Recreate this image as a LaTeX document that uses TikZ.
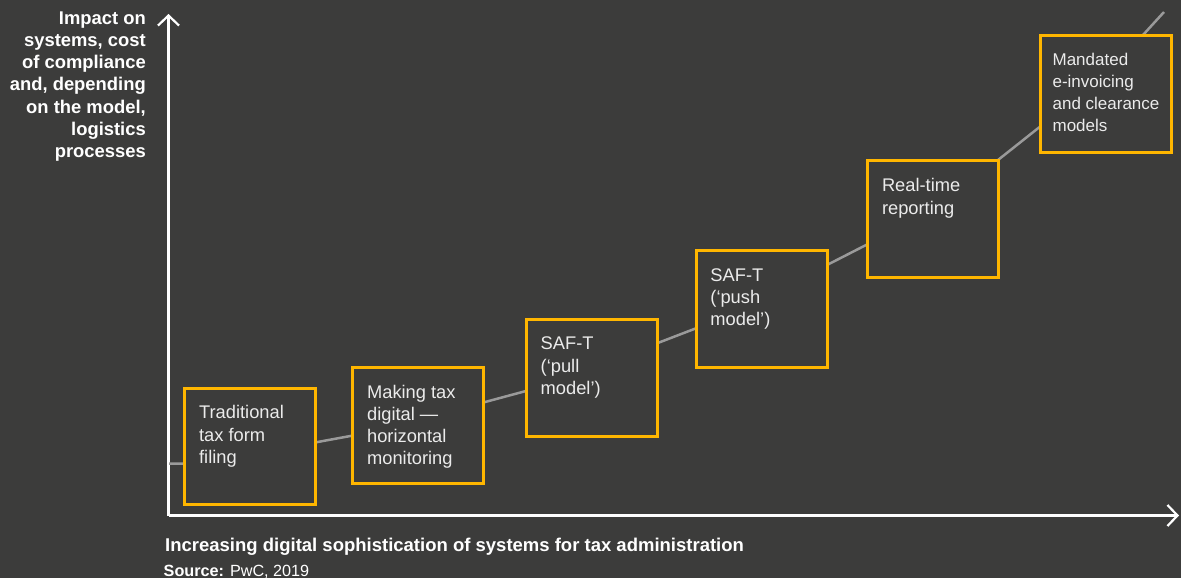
\documentclass[tikz,border=0pt]{standalone}
\usepackage{fontspec}
\setmainfont{Liberation Sans}
\usetikzlibrary{arrows.meta}
\definecolor{bg}{HTML}{3C3C3B}
\definecolor{pwcyellow}{HTML}{FFB600}
\definecolor{trendgrey}{HTML}{9A9A9A}
\tikzset{
  stage/.style={draw=pwcyellow, line width=3pt, fill=bg, minimum width=131pt, minimum height=116.5pt, inner sep=0pt},
  stagetext/.style={anchor=north west, inner sep=0pt, align=left, text=white!92!black, font=\fontsize{18.3}{22.3}\selectfont},
  smallstagetext/.style={stagetext, font=\fontsize{17}{22}\selectfont},
  axisline/.style={draw=white, line width=2.2pt, -{Straight Barb[length=10pt, width=21pt, line width=2.2pt]}},
  trend/.style={draw=trendgrey, line width=2.5pt},
  axislabel/.style={inner sep=0pt, text=white, font=\bfseries\fontsize{18.4}{22.1}\selectfont}
}
\begin{document}
\begin{tikzpicture}[x=1pt,y=-1pt]
\fill[bg] (0,0) rectangle (1181,578);
\useasboundingbox (0,0) rectangle (1181,578);
% axes
\coordinate (origin) at (168.5,515.5);
\coordinate (ytip) at (168.5,14);
\coordinate (xtip) at (1179,515.5);
\draw[axisline] (origin) -- (ytip);
\draw[axisline] (origin) -- (xtip);
% trend line
\coordinate (t0) at (169,463.5);
\coordinate (t1) at (185,463.5);
\coordinate (t2) at (316,442.3);
\coordinate (t3) at (352,435.7);
\coordinate (t4) at (484,402.3);
\coordinate (t5) at (526,391);
\coordinate (t6) at (657,343.3);
\coordinate (t7) at (696,328.3);
\coordinate (t8) at (827,265);
\coordinate (t9) at (868,244);
\coordinate (t10) at (998,160);
\coordinate (t11) at (1040,126.7);
\coordinate (t12) at (1143,35);
\coordinate (t13) at (1164,12);
\draw[trend] (t0) -- (t1) -- (t2) -- (t3) -- (t4) -- (t5) -- (t6) -- (t7) -- (t8) -- (t9) -- (t10) -- (t11) -- (t12) -- (t13);
% stages
\node[stage] (b1) at (250.4,446.4) {};
\node[stage] (b2) at (418.4,425.5) {};
\node[stage] (b3) at (592,377.8) {};
\node[stage] (b4) at (761.7,309) {};
\node[stage] (b5) at (933.3,219.2) {};
\node[stage] (b6) at (1105.9,93.8) {};
\node[stagetext] (s1) at ([xshift=15.5pt,yshift=-18.8pt]b1.north west) {Traditional\\tax form\\filing};
\node[stagetext] (s2) at ([xshift=15.5pt,yshift=-18.8pt]b2.north west) {Making tax\\digital ---\\horizontal\\monitoring};
\node[stagetext] (s3) at ([xshift=15.5pt,yshift=-18.8pt]b3.north west) {SAF-T\\(‘pull\\model’)};
\node[stagetext] (s4) at ([xshift=15.5pt,yshift=-18.8pt]b4.north west) {SAF-T\\(‘push\\model’)};
\node[stagetext] (s5) at ([xshift=15.5pt,yshift=-18.8pt]b5.north west) {Real-time\\reporting};
\node[smallstagetext] (s6) at ([xshift=13.5pt,yshift=-18.5pt]b6.north west) {Mandated\\e-invoicing\\and clearance\\models};
% axis labels
\node[axislabel, anchor=north east, align=right] (ylab) at (146,11.8) {Impact on\\systems, cost\\of compliance\\and, depending\\on the model,\\logistics\\processes};
\node[axislabel, anchor=base west, font=\bfseries\fontsize{18.5}{22}\selectfont] (xlab) at (165,551.5) {Increasing digital sophistication of systems for tax administration};
\node[anchor=base west, inner sep=0pt, text=white, font=\fontsize{16.2}{18}\selectfont] (src) at (163.5,576) {\textbf{Source:} PwC, 2019};
\end{tikzpicture}
\end{document}
